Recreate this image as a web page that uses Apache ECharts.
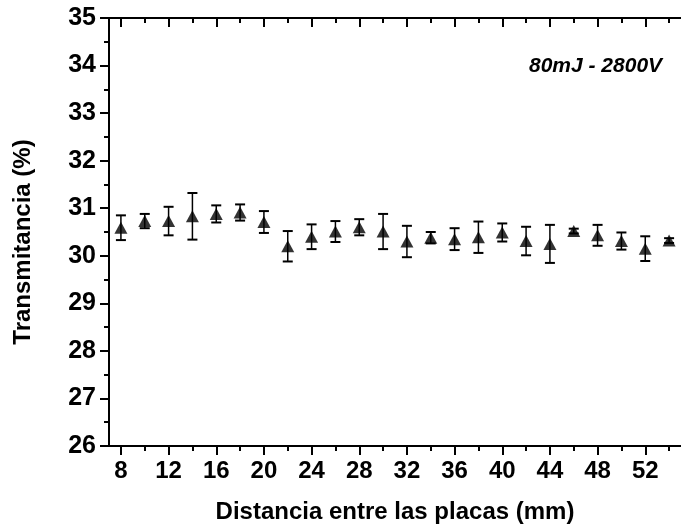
<!DOCTYPE html>
<html>
<head>
<meta charset="utf-8">
<script src="https://cdn.jsdelivr.net/npm/echarts@6/dist/echarts.min.js"></script>
<style>
  html, body { margin: 0; padding: 0; background: #fff; }
  #chart { width: 681px; height: 529px; }
</style>
</head>
<body>
<div id="chart"></div>
<script>
  // distancia entre placas (mm)
  const distancia = [8, 10, 12, 14, 16, 18, 20, 22, 24, 26, 28, 30, 32, 34, 36, 38, 40, 42, 44, 46, 48, 50, 52, 54];
  // transmitancia (%)
  const transmitancia = [30.59, 30.73, 30.73, 30.83, 30.88, 30.91, 30.71, 30.20, 30.40, 30.51, 30.60, 30.51,
    30.30, 30.38, 30.35, 30.39, 30.49, 30.31, 30.25, 30.52, 30.43, 30.31, 30.15, 30.32];
  // barra de error
  const errores = [0.26, 0.15, 0.30, 0.49, 0.18, 0.17, 0.23, 0.32, 0.26, 0.22, 0.17, 0.37,
    0.33, 0.12, 0.23, 0.33, 0.19, 0.30, 0.40, 0.05, 0.22, 0.18, 0.26, 0.05];
  const xMajor = [8, 12, 16, 20, 24, 28, 32, 36, 40, 44, 48, 52];
  const xMinor = [10, 14, 18, 22, 26, 30, 34, 38, 42, 46, 50, 54];

  const FONT = "'Liberation Sans', Arial, sans-serif";
  const negro = '#000';

  const chart = echarts.init(document.getElementById('chart'));

  function errorBar(params, api) {
    const x = api.value(0);
    const lo = api.coord([x, api.value(1)]);
    const hi = api.coord([x, api.value(2)]);
    const w = 5;
    const barStyle = { stroke: negro, lineWidth: 1.5 };
    const capStyle = { stroke: negro, lineWidth: 2 };
    return {
      type: 'group',
      children: [
        { type: 'line', shape: { x1: hi[0], y1: hi[1], x2: lo[0], y2: lo[1] }, style: barStyle },
        { type: 'line', shape: { x1: hi[0] - w, y1: hi[1], x2: hi[0] + w, y2: hi[1] }, style: capStyle },
        { type: 'line', shape: { x1: lo[0] - w, y1: lo[1], x2: lo[0] + w, y2: lo[1] }, style: capStyle }
      ]
    };
  }

  const baseX = {
    type: 'value',
    min: 7,
    max: 55,
    splitLine: { show: false },
    axisLine: { show: false },
    axisLabel: { show: false },
    axisTick: { show: false }
  };

  const option = {
    animation: false,
    backgroundColor: '#fff',
    grid: { left: 109, top: 18, width: 581, height: 428 },
    xAxis: [
      Object.assign({}, baseX, {
        position: 'bottom',
        name: 'Distancia entre las placas (mm)',
        nameLocation: 'middle',
        nameGap: 54,
        nameTextStyle: { color: negro, fontFamily: FONT, fontWeight: 'bold', fontSize: 24 },
        axisLine: { show: true, onZero: false, lineStyle: { color: negro, width: 2 } },
        axisTick: { show: true, customValues: xMajor, length: 9, lineStyle: { color: negro, width: 2 } },
        axisLabel: { show: true, customValues: xMajor, margin: 13, color: negro, fontFamily: FONT, fontWeight: 'bold', fontSize: 24 }
      }),
      Object.assign({}, baseX, {
        position: 'bottom',
        axisTick: { show: true, customValues: xMinor, length: 5, lineStyle: { color: negro, width: 2 } }
      }),
      Object.assign({}, baseX, {
        position: 'top',
        axisLine: { show: true, onZero: false, lineStyle: { color: negro, width: 2 } },
        axisTick: { show: true, inside: true, customValues: xMajor, length: 9, lineStyle: { color: negro, width: 2 } }
      }),
      Object.assign({}, baseX, {
        position: 'top',
        axisTick: { show: true, inside: true, customValues: xMinor, length: 5, lineStyle: { color: negro, width: 2 } }
      })
    ],
    yAxis: {
      type: 'value',
      min: 26,
      max: 35,
      interval: 1,
      name: 'Transmitancia (%)',
      nameLocation: 'middle',
      nameGap: 74,
      nameTextStyle: { color: negro, fontFamily: FONT, fontWeight: 'bold', fontSize: 24, padding: [0, 20, 0, 0] },
      splitLine: { show: false },
      axisLine: { show: true, onZero: false, lineStyle: { color: negro, width: 2 } },
      axisTick: { show: true, length: 9, lineStyle: { color: negro, width: 2 } },
      minorTick: { show: true, splitNumber: 2, length: 5, lineStyle: { color: negro, width: 2 } },
      axisLabel: { margin: 13, color: negro, fontFamily: FONT, fontWeight: 'bold', fontSize: 25 }
    },
    graphic: [{
      type: 'text',
      left: 529,
      top: 56,
      style: { text: '80mJ - 2800V', fill: negro, font: "italic bold 21px 'Liberation Sans', Arial, sans-serif" }
    }],
    series: [
      {
        type: 'custom',
        xAxisIndex: 0,
        renderItem: errorBar,
        data: distancia.map((x, i) => [x, transmitancia[i] - errores[i], transmitancia[i] + errores[i]]),
        z: 2
      },
      {
        type: 'scatter',
        xAxisIndex: 0,
        symbol: 'triangle',
        symbolSize: [13, 12],
        itemStyle: { color: negro },
        data: distancia.map((x, i) => [x, transmitancia[i]]),
        z: 3
      }
    ]
  };

  chart.setOption(option);
</script>
</body>
</html>
